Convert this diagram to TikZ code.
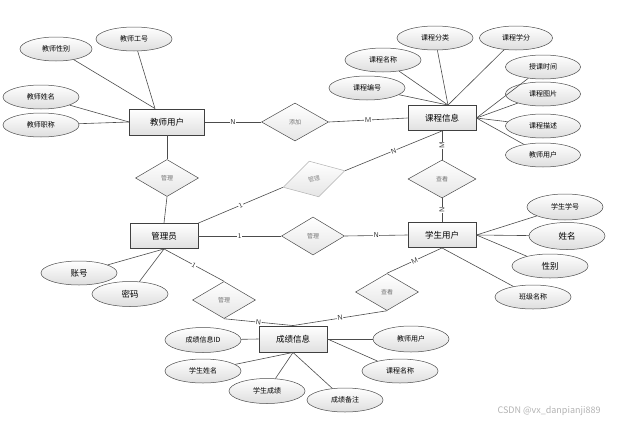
\documentclass[tikz,border=0pt]{standalone}
\usepackage{fontspec}
\newfontfamily\cjk{Noto Sans CJK SC}
\usepackage{xcolor}
\usetikzlibrary{shapes.geometric}

\begin{document}
\begin{tikzpicture}[x=1pt,y=-1pt,
entity/.style={draw=black!75, line width=0.9pt, top color=white, bottom color=black!12, minimum width=68pt, minimum height=25pt, inner sep=0pt, font=\cjk\fontsize{8.5}{9}\selectfont},
attr/.style={ellipse, draw=black!70, line width=0.5pt, top color=white, bottom color=black!13, minimum width=76pt, minimum height=24pt, inner sep=0pt, font=\cjk\fontsize{7}{8}\selectfont},
rel/.style={diamond, draw=black!70, line width=0.5pt, top color=white, bottom color=black!10, minimum width=63pt, minimum height=37pt, inner sep=0pt, text=black!55, font=\cjk\fontsize{6}{7}\selectfont},
card/.style={fill=white, inner sep=0.6pt, text=black!80, font=\sffamily\fontsize{7}{7}\selectfont},
link/.style={draw=black!70, line width=0.6pt}]

\useasboundingbox (0,0) rectangle (618,423);

% entities
\node[entity, minimum width=75pt, minimum height=26pt] (teacher) at (167,122) {教师用户};
\node[entity] (course) at (442,118) {课程信息};
\node[entity] (admin) at (164,236) {管理员};
\node[entity] (student) at (442,235) {学生用户};
\node[entity, minimum height=26pt] (grade) at (293,339) {成绩信息};

% relations
\node[rel, minimum width=67pt, minimum height=38pt] (add) at (295,122) {添加};
\node[rel] (mTeach) at (167,178) {管理};
\node[rel, rotate=15, minimum width=64pt, draw=black!30, text=black!45] (mCourse) at (314,179) {管理};
\node[rel, minimum height=38pt] (mStu) at (313,236) {管理};
\node[rel, minimum width=68pt, minimum height=38pt] (lookCourse) at (442,179) {查看};
\node[rel] (lookGrade) at (387,292) {查看};
\node[rel] (mGrade) at (224,300) {管理};

% attributes
\node[attr] (tNo) at (134,39) {教师工号};
\node[attr, minimum width=72pt] (tSex) at (56,49) {教师性别};
\node[attr] (tName) at (41,97) {教师姓名};
\node[attr] (tTitle) at (41,125) {教师职称};

\node[attr] (cType) at (435,38) {课程分类};
\node[attr, minimum width=73pt] (cCredit) at (516,38) {课程学分};
\node[attr] (cName) at (383,60) {课程名称};
\node[attr] (cNo) at (367,88) {课程编号};
\node[attr, minimum width=75pt] (cTime) at (543,67) {授课时间};
\node[attr, minimum width=75pt] (cPic) at (543,94) {课程图片};
\node[attr, minimum width=75pt] (cDesc) at (543,126) {课程描述};
\node[attr, minimum width=75pt] (cTeacher) at (543,155) {教师用户};

\node[attr, minimum height=26pt] (sNo) at (565,207) {学生学号};
\node[attr, minimum height=27pt, font=\cjk\fontsize{8.5}{9}\selectfont] (sName) at (567,236) {姓名};
\node[attr, font=\cjk\fontsize{8.5}{9}\selectfont] (sSex) at (550,266) {性别};
\node[attr] (sClass) at (533,297) {班级名称};

\node[attr, font=\cjk\fontsize{8.5}{9}\selectfont] (aAcc) at (79,273) {账号};
\node[attr, minimum height=25pt, font=\cjk\fontsize{8.5}{9}\selectfont] (aPwd) at (130,294) {密码};

\node[attr, minimum height=25pt] (gId) at (203,340) {成绩信息ID};
\node[attr] (gStu) at (203,371) {学生姓名};
\node[attr, minimum height=25pt] (gScore) at (267,391) {学生成绩};
\node[attr] (gNote) at (345,400) {成绩备注};
\node[attr, minimum height=26pt] (gTeacher) at (411,339) {教师用户};
\node[attr] (gCourse) at (400,371) {课程名称};

\node[text=black!30, font=\cjk\fontsize{9}{9}\selectfont] (mark) at (549,411) {CSDN @vx\_danpianji889};

% attribute links
\draw[link] (tNo) -- ([xshift=-12pt]teacher.north);
\draw[link] (tSex) -- ([xshift=-12pt]teacher.north);
\draw[link] (tName) -- (teacher.west);
\draw[link] (tTitle) -- (teacher.west);

\draw[link] (cType) -- ([xshift=6pt]course.north);
\draw[link] (cCredit) -- ([xshift=6pt]course.north);
\draw[link] (cName) -- ([xshift=6pt]course.north);
\draw[link] (cNo) -- ([xshift=6pt]course.north);
\draw[link] (cTime) -- (course.east);
\draw[link] (cPic) -- (course.east);
\draw[link] (cDesc) -- (course.east);
\draw[link] (cTeacher) -- (course.east);

\draw[link] (sNo) -- (student.east);
\draw[link] (sName) -- (student.east);
\draw[link] (sSex) -- (student.east);
\draw[link] (sClass) -- (student.south);

\draw[link] (aAcc) -- (admin.south);
\draw[link] (aPwd) -- (admin.south);

\draw[link] (gId) -- (grade.west);
\draw[link] (gStu) -- (grade.south);
\draw[link] (gScore) -- (grade.south);
\draw[link] (gNote) -- (grade.south);
\draw[link] (gTeacher) -- (grade.east);
\draw[link] (gCourse) -- (grade.east);

% relation links
\draw[link] (teacher.east) -- node[card]{N} (add.west);
\draw[link] (add.east) -- node[card]{M} (course.west);
\draw[link] (teacher.south) -- (mTeach.north);
\draw[link] (mTeach.south) -- (admin.north);
\draw[link] (admin.north east) -- node[card, sloped]{1} (mCourse.west);
\draw[link] (mCourse.east) -- node[card, sloped]{N} (course.south);
\draw[link] (admin.east) -- node[card]{1} (mStu.west);
\draw[link] (mStu.east) -- node[card]{N} (student.west);
\draw[link] (course.south) -- node[card, rotate=90]{M} (lookCourse.north);
\draw[link] (lookCourse.south) -- node[card, rotate=90]{N} (student.north);
\draw[link] (student.south) -- node[card, sloped]{M} (lookGrade.north);
\draw[link] (lookGrade.south) -- node[card, sloped]{N} (grade.north);
\draw[link] (admin.south) -- node[card, sloped]{1} (mGrade.north);
\draw[link] (mGrade.south) -- node[card, sloped]{N} (grade.north);

\end{tikzpicture}
\end{document}
